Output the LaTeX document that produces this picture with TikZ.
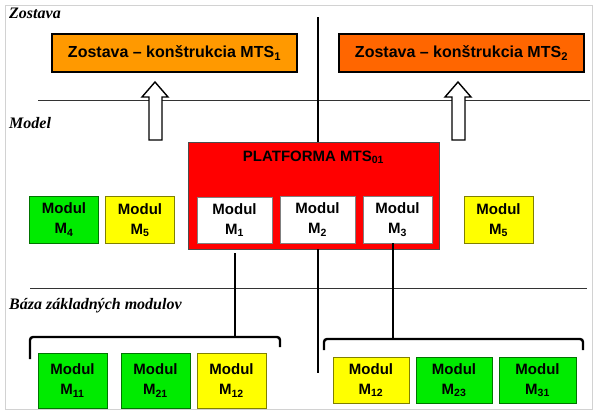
\documentclass[tikz,border=0pt]{standalone}
\usepackage{fontspec}
\setmainfont{Liberation Serif}
\setsansfont{Liberation Sans}
\definecolor{oranz}{RGB}{255,153,0}
\definecolor{oranztm}{RGB}{255,102,0}
\definecolor{cervena}{RGB}{255,0,0}
\definecolor{zelena}{RGB}{0,235,0}
\definecolor{zlta}{RGB}{255,255,0}
\definecolor{ramik}{RGB}{210,210,210}
\begin{document}
\begin{tikzpicture}[x=1pt,y=-1pt,
    vrstva/.style={anchor=base west, inner sep=0pt, font=\bfseries\itshape\fontsize{16}{19}\selectfont},
    zostava/.style={draw=black, line width=2pt, fill=#1, minimum width=245pt, minimum height=38pt, inner sep=0pt, font=\sffamily\bfseries\fontsize{16}{19}\selectfont},
    modul/.style={draw=#1!50!black, line width=0.8pt, fill=#1, align=center, inner sep=0pt, minimum width=69pt, minimum height=47pt, font=\sffamily\bfseries\fontsize{15}{20}\selectfont},
    spoj/.style={line width=1.8pt},
    zatvorka/.style={line width=2.4pt, rounded corners=3pt}]
    \useasboundingbox (0,0) rectangle (600,416);
    \draw[ramik, line width=1pt] (5,5) rectangle (592,409);
    % vrstvy
    \node[vrstva] (lzos) at (9,18) {Zostava};
    \node[vrstva] (lmod) at (9,128) {Model};
    \node[vrstva] (lbaz) at (9,309) {Báza základných modulov};
    \draw[black!80, line width=0.8pt] (38,100) -- (590,100);
    \draw[black!80, line width=0.8pt] (30,288) -- (587,288);
    % zostavy
    \node[zostava=oranz] (mts1) at (174.5,53) {Zostava – konštrukcia MTS\textsubscript{1}};
    \node[zostava=oranztm] (mts2) at (461.5,53) {Zostava – konštrukcia MTS\textsubscript{2}};
    \foreach \ax in {155,458}
        \draw[line width=1.4pt, fill=white] (\ax,82) -- (\ax+13,97) -- (\ax+7,97) -- (\ax+7,140)
            -- (\ax-6,140) -- (\ax-6,97) -- (\ax-13,97) -- cycle;
    % platforma
    \node[draw=black!70, line width=0.8pt, fill=cervena, minimum width=251pt, minimum height=107pt] (plat) at (313.5,195.5) {};
    \node[font=\sffamily\bfseries\fontsize{15}{18}\selectfont] (ptit) at (313.5,157) {PLATFORMA MTS\textsubscript{01}};
    \node[modul=white, minimum width=75pt, minimum height=46pt] (m1) at (234.5,220) {Modul\\M\textsubscript{1}};
    \node[modul=white, minimum width=75pt, minimum height=47pt] (m2) at (317.5,219.5) {Modul\\M\textsubscript{2}};
    \node[modul=white, minimum height=47pt] (m3) at (397.5,219.5) {Modul\\M\textsubscript{3}};
    \node[modul=zelena] (m4) at (64,219.5) {Modul\\M\textsubscript{4}};
    \node[modul=zlta] (m5a) at (140,220) {Modul\\M\textsubscript{5}};
    \node[modul=zlta] (m5b) at (498.5,220) {Modul\\M\textsubscript{5}};
    % baza
    \node[modul=zelena, minimum height=55pt] (m11) at (72.5,380.5) {Modul\\M\textsubscript{11}};
    \node[modul=zelena, minimum height=55pt] (m21) at (155.5,380.5) {Modul\\M\textsubscript{21}};
    \node[modul=zlta, minimum height=55pt] (m12a) at (231.5,380.5) {Modul\\M\textsubscript{12}};
    \node[modul=zlta, minimum width=76pt, minimum height=46pt] (m12b) at (371,380) {Modul\\M\textsubscript{12}};
    \node[modul=zelena, minimum width=76pt, minimum height=46pt] (m23) at (454,380) {Modul\\M\textsubscript{23}};
    \node[modul=zelena, minimum width=77pt, minimum height=46pt] (m31) at (537.5,380) {Modul\\M\textsubscript{31}};
    % zatvorky
    \coordinate (zl) at (235,337);
    \coordinate (zp) at (393,339);
    \draw[zatvorka] (30,359) -- (30,337) -- (280,337) -- (280,347);
    \draw[zatvorka] (324,350) -- (324,339) -- (583,339) -- (583,350);
    % spoje
    \coordinate (hore) at (318,17);
    \coordinate (dole) at (318,373);
    \draw[spoj] (hore) -- (hore |- plat.north);
    \draw[spoj] (dole |- plat.south) -- (dole);
    \draw[spoj] (zl |- 0,253) -- (zl);
    \draw[spoj] (zp |- m3.south) -- (zp);
\end{tikzpicture}
\end{document}
